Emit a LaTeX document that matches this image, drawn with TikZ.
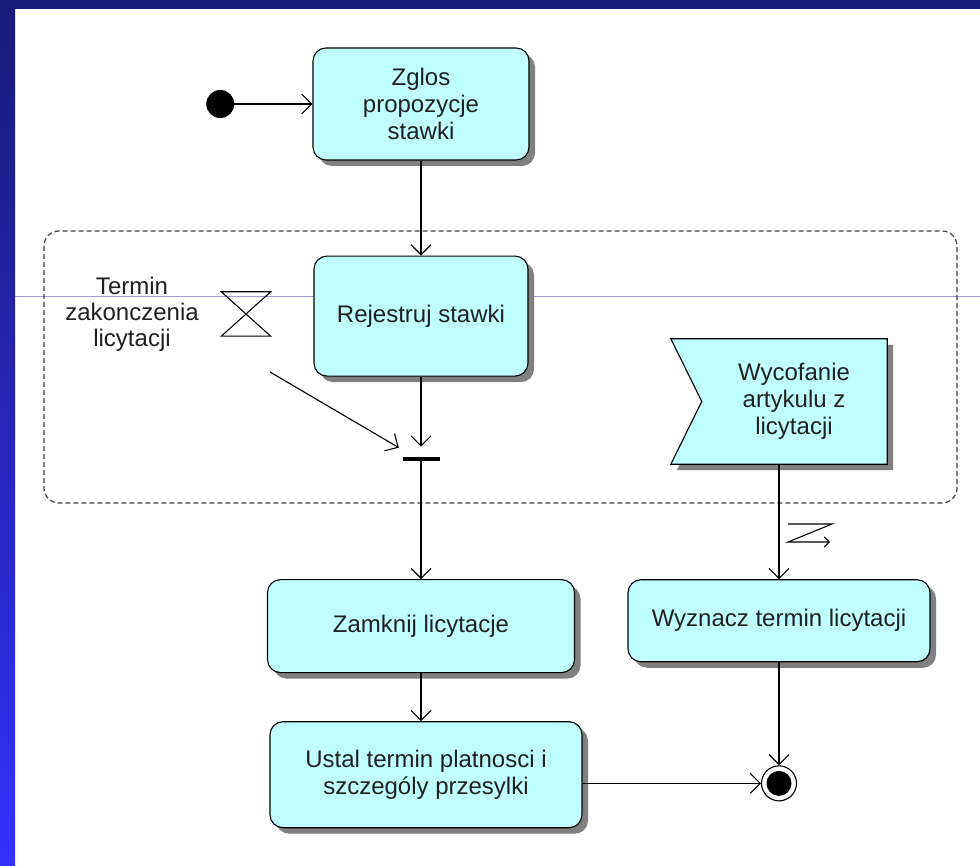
\documentclass[tikz,border=0pt]{standalone}
\usepackage{fontspec}
\setmainfont{Liberation Sans}
\usetikzlibrary{positioning,shadows,arrows.meta,calc}
\definecolor{rosefill}{HTML}{C0FFFF}
\definecolor{roseshadow}{HTML}{808080}
\definecolor{ramka}{HTML}{1A1A78}
\definecolor{ramkadol}{HTML}{3232FA}
\definecolor{linia}{HTML}{9C9CD4}
\definecolor{tekst}{HTML}{202020}

\tikzset{
  akcja/.style={draw, fill=rosefill, rounded corners=13pt, line width=1.1pt,
    inner sep=0pt, align=center, text=tekst, font=\fontsize{24}{27}\selectfont,
    drop shadow={shadow xshift=6pt, shadow yshift=-6pt, fill=roseshadow, opacity=1}},
  opis/.style={inner sep=0pt, align=center, text=tekst, font=\fontsize{24}{26}\selectfont},
  strzalka/.style={line width=1.1pt, -{Straight Barb[length=10pt,width=20pt]}},
}

\begin{document}
\begin{tikzpicture}[x=1pt, y=-1pt]
    \useasboundingbox (0,0) rectangle (980,866);
    \fill[white] (0,0) rectangle (980,866);
    \fill[ramka] (0,0) rectangle (980,9);
    \shade[top color=ramka, bottom color=ramkadol] (0,0) rectangle (15,866);
    \draw[linia, line width=1pt] (15,297) -- (980,297);

    % region
    \draw[line width=1.2pt, black!75, dash pattern=on 5pt off 3pt, rounded corners=15pt]
    (44,231) rectangle (957,503);

    \node[akcja, minimum width=216pt, minimum height=112pt] (zglos) at (421,104) {Zglos\\propozycje\\stawki};
    \node[circle, fill=black, minimum size=28pt, inner sep=0pt, left=78pt of zglos] (start) {};
    \node[akcja, minimum width=214pt, minimum height=120pt, below=95pt of zglos] (rejestruj) {Rejestruj stawki};
    \node[fill=black, minimum width=37pt, minimum height=4pt, inner sep=0pt, below=80pt of rejestruj] (bar) {};
    \node[akcja, minimum width=307pt, minimum height=93pt, below=118pt of bar] (zamknij) {Zamknij licytacje};
    \node[akcja, minimum width=312pt, minimum height=106pt, below=48pt of zamknij, xshift=5pt] (ustal) {Ustal termin platnosci i\\szczególy przesylki};

    \node[minimum width=49pt, minimum height=44pt, inner sep=0pt] (zegar) at (246,314) {};
    \draw[line width=1.1pt] (zegar.north west) -- (zegar.north east) -- (zegar.south west) -- (zegar.south east) -- cycle;
    \node[opis] (termin) at (132,314) {Termin\\zakonczenia\\licytacji};
    \coordinate (czas) at (270,372);

    \node[minimum width=216pt, minimum height=125pt, inner sep=0pt] (flag) at (779,401.5) {};
    \fill[roseshadow] ($(flag.north west)+(6,6)$) -- ($(flag.north east)+(6,6)$) -- ($(flag.south east)+(6,6)$)
    -- ($(flag.south west)+(6,6)$) -- ($(flag.west)+(37,6)$) -- cycle;
    \filldraw[fill=rosefill, line width=1.1pt] (flag.north west) -- (flag.north east) -- (flag.south east)
    -- (flag.south west) -- ($(flag.west)+(31,0)$) -- cycle;
    \node[opis, font=\fontsize{24}{27}\selectfont] (flagtekst) at ($(flag.center)+(15,0)$) {Wycofanie\\artykulu z\\licytacji};

    \node[akcja, minimum width=302pt, minimum height=82pt, below=115pt of flag] (wyznacz) {Wyznacz termin licytacji};
    \node[circle, draw, line width=1.1pt, minimum size=35pt, inner sep=0pt, below=103pt of wyznacz] (koniec) {};
    \fill (koniec.center) circle (12.5pt);

    \path[strzalka]
    (start) edge (zglos)
    (zglos) edge (rejestruj)
    (rejestruj) edge ([yshift=10pt]bar.north)
    (czas) edge ([xshift=-3.5pt,yshift=9pt]bar.north west)
    (bar) edge (zamknij)
    (zamknij) edge (zamknij.south |- ustal.north)
    (ustal.east |- koniec.west) edge (koniec)
    (flag) edge (wyznacz)
    (wyznacz) edge (koniec);

    \coordinate (piorun) at (788,524);
    \draw[line width=1.1pt, -{Straight Barb[length=5pt,width=10pt]}]
    (piorun) -- ++(44,0) -- ++(-44,18) -- ++(42,0);
\end{tikzpicture}
\end{document}
